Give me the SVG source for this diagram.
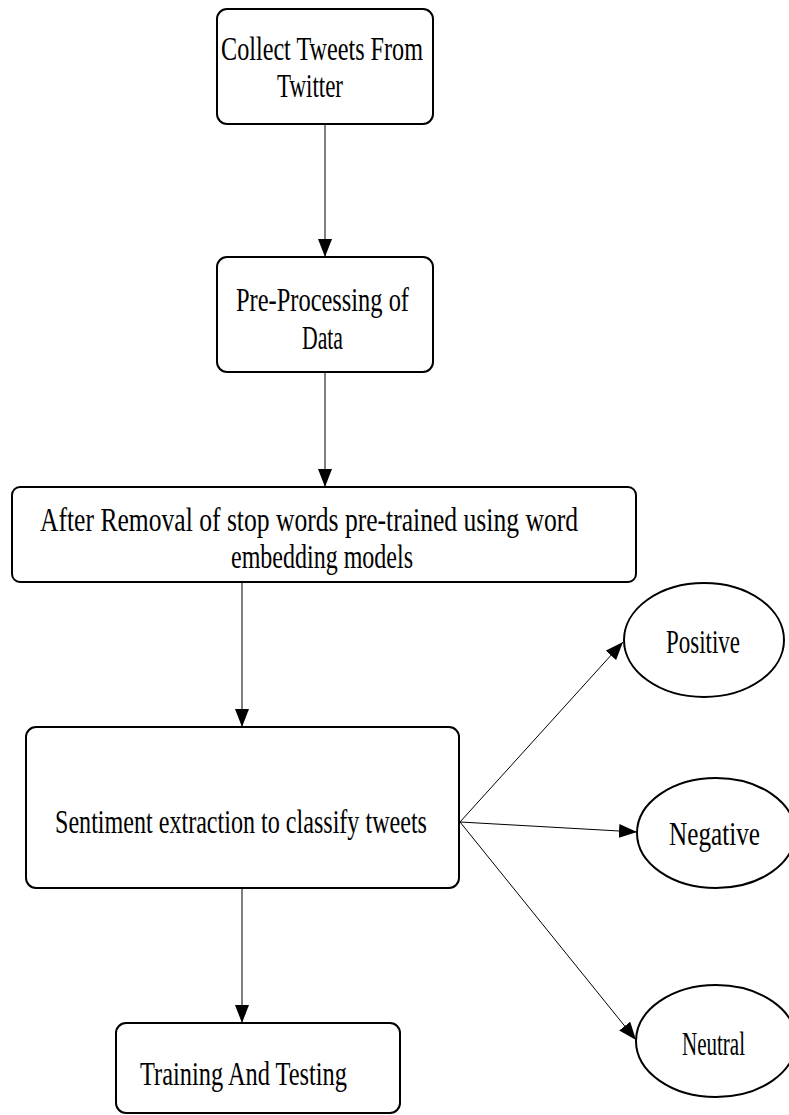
<svg xmlns="http://www.w3.org/2000/svg" width="789" height="1115" viewBox="0 0 789 1115">
<style>
.box{fill:#fff;stroke:#000;stroke-width:2}
.ell{fill:#fff;stroke:#000;stroke-width:2}
.t{font-family:'Liberation Serif','Times New Roman','DejaVu Serif',serif;font-size:33px;fill:#000}
.c{stroke:#000;stroke-width:1;fill:none}
</style>
<defs>
<marker id="ah" viewBox="0 0 10 10" refX="10" refY="5" markerWidth="18" markerHeight="14" markerUnits="userSpaceOnUse" orient="auto" preserveAspectRatio="none">
<path d="M0,0 L10,5 L0,10 Z" fill="#000"/>
</marker>
</defs>
<rect width="789" height="1115" fill="#fff"/>
<g id="connectors">
<line class="c" x1="325" y1="124" x2="325" y2="257" marker-end="url(#ah)"/>
<line class="c" x1="325" y1="372" x2="325" y2="487" marker-end="url(#ah)"/>
<line class="c" x1="242" y1="582" x2="242" y2="727" marker-end="url(#ah)"/>
<line class="c" x1="242" y1="888" x2="242" y2="1023" marker-end="url(#ah)"/>
<line class="c" x1="460" y1="822" x2="623" y2="642" marker-end="url(#ah)"/>
<line class="c" x1="460" y1="822" x2="637" y2="832" marker-end="url(#ah)"/>
<line class="c" x1="460" y1="822" x2="636" y2="1040" marker-end="url(#ah)"/>
</g>
<g id="n1">
<rect class="box" x="217" y="9" width="216" height="115" rx="10"/>
<text class="t" font-family="Liberation Serif, serif" font-size="33" x="221" y="60" textLength="202" lengthAdjust="spacingAndGlyphs">Collect Tweets From</text>
<text class="t" font-family="Liberation Serif, serif" font-size="33" x="277" y="97" textLength="66" lengthAdjust="spacingAndGlyphs">Twitter</text>
</g>
<g id="n2">
<rect class="box" x="217" y="257" width="216" height="115" rx="10"/>
<text class="t" x="236" y="311" textLength="173" lengthAdjust="spacingAndGlyphs">Pre-Processing of</text>
<text class="t" x="302" y="349" textLength="41" lengthAdjust="spacingAndGlyphs">Data</text>
</g>
<g id="n3">
<rect class="box" x="12" y="487" width="624" height="95" rx="8"/>
<text class="t" x="40" y="531" textLength="538" lengthAdjust="spacingAndGlyphs">After Removal of stop words pre-trained using word</text>
<text class="t" x="231" y="568" textLength="182" lengthAdjust="spacingAndGlyphs">embedding models</text>
</g>
<g id="n4">
<rect class="box" x="26" y="727" width="433" height="161" rx="10"/>
<text class="t" x="55" y="833" textLength="372" lengthAdjust="spacingAndGlyphs">Sentiment extraction to classify tweets</text>
</g>
<g id="n5">
<rect class="box" x="116" y="1023" width="284" height="90" rx="10"/>
<text class="t" x="140" y="1085" textLength="207" lengthAdjust="spacingAndGlyphs">Training And Testing</text>
</g>
<g id="positive">
<ellipse class="ell" cx="704" cy="640" rx="80" ry="57"/>
<text class="t" x="666" y="653" textLength="74" lengthAdjust="spacingAndGlyphs">Positive</text>
</g>
<g id="negative">
<ellipse class="ell" cx="716" cy="833" rx="79" ry="55"/>
<text class="t" x="669" y="845" textLength="91" lengthAdjust="spacingAndGlyphs">Negative</text>
</g>
<g id="neutral">
<ellipse class="ell" cx="716" cy="1041" rx="80" ry="56"/>
<text class="t" x="682" y="1055" textLength="63" lengthAdjust="spacingAndGlyphs">Neutral</text>
</g>
</svg>
